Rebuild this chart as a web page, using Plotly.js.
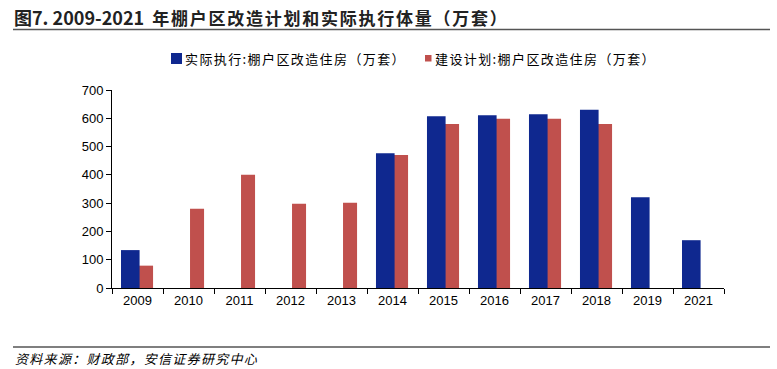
<!DOCTYPE html>
<html><head><meta charset="utf-8">
<script src="https://cdn.plot.ly/plotly-3.0.1.min.js"></script>
<style>body{margin:0;background:#fff}#c{width:777px;height:369px}</style>
</head><body><div id="c"></div>
<script>
const years = ['2009','2010','2011','2012','2013','2014','2015','2016','2017','2018','2019','2021'];
const actual = [134, null, null, null, null, 476, 607, 611, 614, 630, 321, 169];
const plan = [79, 280, 400, 298, 301, 470, 580, 598, 598, 580, null, null];
const nameActual = '实际执行:棚户区改造住房（万套）';
const namePlan = '建设计划:棚户区改造住房（万套）';
const titleHead = '图7. 2009-2021';
const titleBody = '年棚户区改造计划和实际执行体量（万套）';
const sourceText = '资料来源：财政部，安信证券研究中心';
const colActual = '#0F288F', colPlan = '#C0504D';

const L=112, R=724, T=90, B=288;
const px = v => (v-L)/(R-L);
const py = v => (B-v)/(B-T);
const cjk = '"Noto Sans CJK SC", "Liberation Sans", sans-serif';
const sp = (s, ls) => '<span style="letter-spacing:' + ls + 'px">' + s + '</span>';

const traces = [
  {type:'bar', x:years, y:plan, name:namePlan, marker:{color:colPlan},
   width:0.275, offset:0.03},
  {type:'bar', x:years, y:actual, name:nameActual, marker:{color:colActual},
   width:0.365, offset:-0.324}
];
const layout = {
  width:777, height:369,
  margin:{l:L, r:777-R, t:T, b:369-B},
  paper_bgcolor:'#fff', plot_bgcolor:'#fff',
  barmode:'overlay',
  showlegend:false,
  xaxis:{type:'category', showline:true, linecolor:'#000', linewidth:1,
    ticks:'outside', ticklen:5, tickcolor:'#000', tickson:'boundaries',
    tickfont:{family:'"Liberation Sans", Arial, sans-serif', size:13, color:'#000'},
    showgrid:false, zeroline:false, fixedrange:true},
  yaxis:{range:[0,700], dtick:100, showline:true, linecolor:'#000', linewidth:1,
    ticks:'outside', ticklen:5, tickcolor:'#000',
    tickfont:{family:'"Liberation Sans", Arial, sans-serif', size:13, color:'#000'},
    showgrid:false, zeroline:false, fixedrange:true},
  annotations:[
    {xref:'paper', yref:'paper', x:px(12), y:py(17), xanchor:'left', yanchor:'middle',
     text:'<b><span style="font-size:18px">' + titleHead + '&nbsp;&nbsp;</span>' + sp(titleBody, 1.75) + '</b>',
     showarrow:false, font:{family:cjk, size:17, color:'#222'}},
    {xref:'paper', yref:'paper', x:px(13), y:py(358), xanchor:'left', yanchor:'middle',
     text:'<i>' + sp(sourceText, 1.3) + '</i>', showarrow:false, font:{family:cjk, size:13, color:'#000'}},
    {xref:'paper', yref:'paper', x:px(183), y:py(58), xanchor:'left', yanchor:'middle',
     text:sp(nameActual, 1.4), showarrow:false, font:{family:cjk, size:13, color:'#000'}},
    {xref:'paper', yref:'paper', x:px(433), y:py(58), xanchor:'left', yanchor:'middle',
     text:sp(namePlan, 1.4), showarrow:false, font:{family:cjk, size:13, color:'#000'}}
  ],
  shapes:[
    {type:'line', xref:'paper', yref:'paper', x0:px(13), x1:px(770), y0:py(29.5), y1:py(29.5),
     line:{color:'#555', width:1.5}},
    {type:'line', xref:'paper', yref:'paper', x0:px(13), x1:px(770), y0:py(347), y1:py(347),
     line:{color:'#555', width:1.5}},
    {type:'rect', xref:'paper', yref:'paper', x0:px(171), x1:px(182), y0:py(53), y1:py(64),
     fillcolor:colActual, line:{width:0}},
    {type:'rect', xref:'paper', yref:'paper', x0:px(425), x1:px(431.5), y0:py(55), y1:py(61.5),
     fillcolor:colPlan, line:{width:0}}
  ]
};
Plotly.newPlot('c', traces, layout, {displayModeBar:false, staticPlot:true});
</script></body></html>
